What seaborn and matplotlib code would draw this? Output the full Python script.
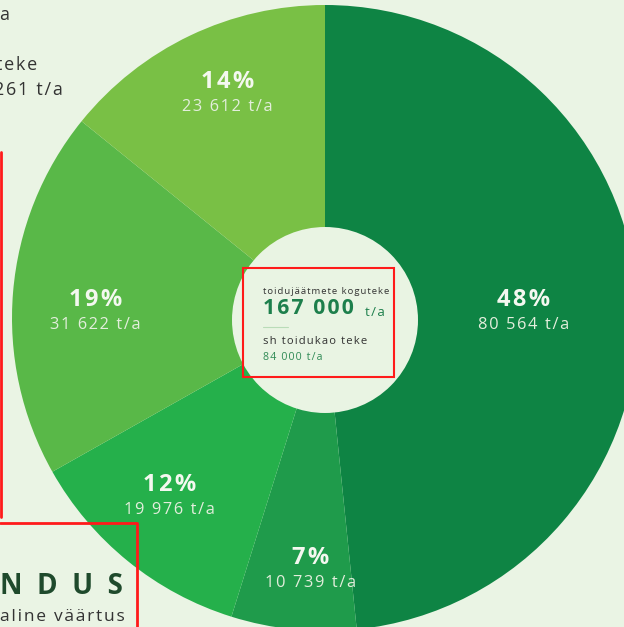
import numpy as np
import matplotlib
matplotlib.use('Agg')
import matplotlib.pyplot as plt
from matplotlib.patches import Circle, Rectangle
import seaborn as sns

# data
categories = ['48%', '7%', '12%', '19%', '14%']
tonnes = [80564, 10739, 19976, 31622, 23612]
value_labels = ['80 564', '10 739', '19 976', '31 622', '23 612']
total_label = '167 000'
loss_label = '84 000 t/a'

# style
sns.set_style("white")
plt.rcParams['font.family'] = ['Open Sans', 'DejaVu Sans']
bg = '#eaf4e4'
wedge_colors = ['#0e8444', '#1f9b4b', '#25b04b', '#59b848', '#79c045']
label_r = [199, 251, 236, 230, 246]
label_dang = [0.7, -2.4, 2.1, -2.8, 2.1]

W, H = 624, 627
cx, cy = 325, H - 318
R, r_in = 313, 93


def spaced(s, gap='\u200a'):
    # fake letter spacing
    return gap.join(s)


fig = plt.figure(figsize=(W / 100, H / 100), dpi=100, facecolor=bg)
ax = fig.add_axes([0, 0, 1, 1])
ax.pie(tonnes, colors=wedge_colors, startangle=90, counterclock=False,
       radius=R, center=(cx, cy), wedgeprops=dict(linewidth=0))
ax.add_patch(Circle((cx, H - 320), r_in, color='#e9f4e3', lw=0, zorder=3))
ax.set_xlim(0, W)
ax.set_ylim(0, H)
ax.set_aspect('equal')
ax.axis('off')

# wedge labels
frac = np.array(tonnes) / sum(tonnes)
mids = (np.cumsum(frac) - frac / 2) * 360
for lab, val, ang, rr, da in zip(categories, value_labels, mids, label_r, label_dang):
    a = np.radians(ang + da)
    x = cx + rr * np.sin(a)
    y = cy + rr * np.cos(a)
    ax.text(x, y + 10.5, spaced(lab), ha='center', va='center', color='#f4f8f0',
            fontsize=17, fontweight='bold', zorder=4)
    ax.text(x, y - 14.5, spaced(val + ' t/a'), ha='center', va='center',
            color='#e3eedc', fontsize=11.8, zorder=4)

# centre text
dark = '#333333'
green = '#1d7f4c'
ax.text(263, H - 291, spaced('toidujäätmete koguteke'), ha='left', va='center',
        color=dark, fontsize=6.8, zorder=5)
ax.text(263, H - 309, spaced(total_label), ha='left', va='center', color=green,
        fontsize=15.2, fontweight='bold', zorder=5)
ax.text(365, H - 312, spaced('t/a'), ha='left', va='center', color=green,
        fontsize=9.5, zorder=5)
ax.plot([263, 288], [H - 327, H - 327], color='#b9dcb8', lw=0.8, zorder=5)
ax.text(263, H - 341, spaced('sh toidukao teke'), ha='left', va='center',
        color=dark, fontsize=8.1, zorder=5)
ax.text(263, H - 358, spaced(loss_label), ha='left', va='center', color='#2f8a55',
        fontsize=7.7, zorder=5)

# cut-off texts on the left
ax.text(-1, H - 15, 'a', ha='left', va='center', color=dark, fontsize=13)
ax.text(37, H - 65, spaced('teke'), ha='right', va='center', color=dark, fontsize=13)
ax.text(63, H - 90, spaced('261 t/a'), ha='right', va='center', color=dark, fontsize=13)
ax.text(0, H - 586, 'N  D  U  S', ha='left', va='center', color='#1f4a2c',
        fontsize=20, fontweight='bold')
ax.text(0.5, H - 617, spaced('aline väärtus'), ha='left', va='center', color=dark,
        fontsize=12.5)

# red boxes
red = '#ff1a1a'
ax.plot([1, 1], [H - 152, H - 517], color=red, lw=2, zorder=6)
ax.plot([0, 137, 137], [H - 523, H - 523, -2], color=red, lw=2, zorder=6)
ax.add_patch(Rectangle((243, H - 377), 151, 109, fill=False, ec=red, lw=1.5, zorder=6))

fig.savefig('out.png', dpi=100, facecolor=bg)
